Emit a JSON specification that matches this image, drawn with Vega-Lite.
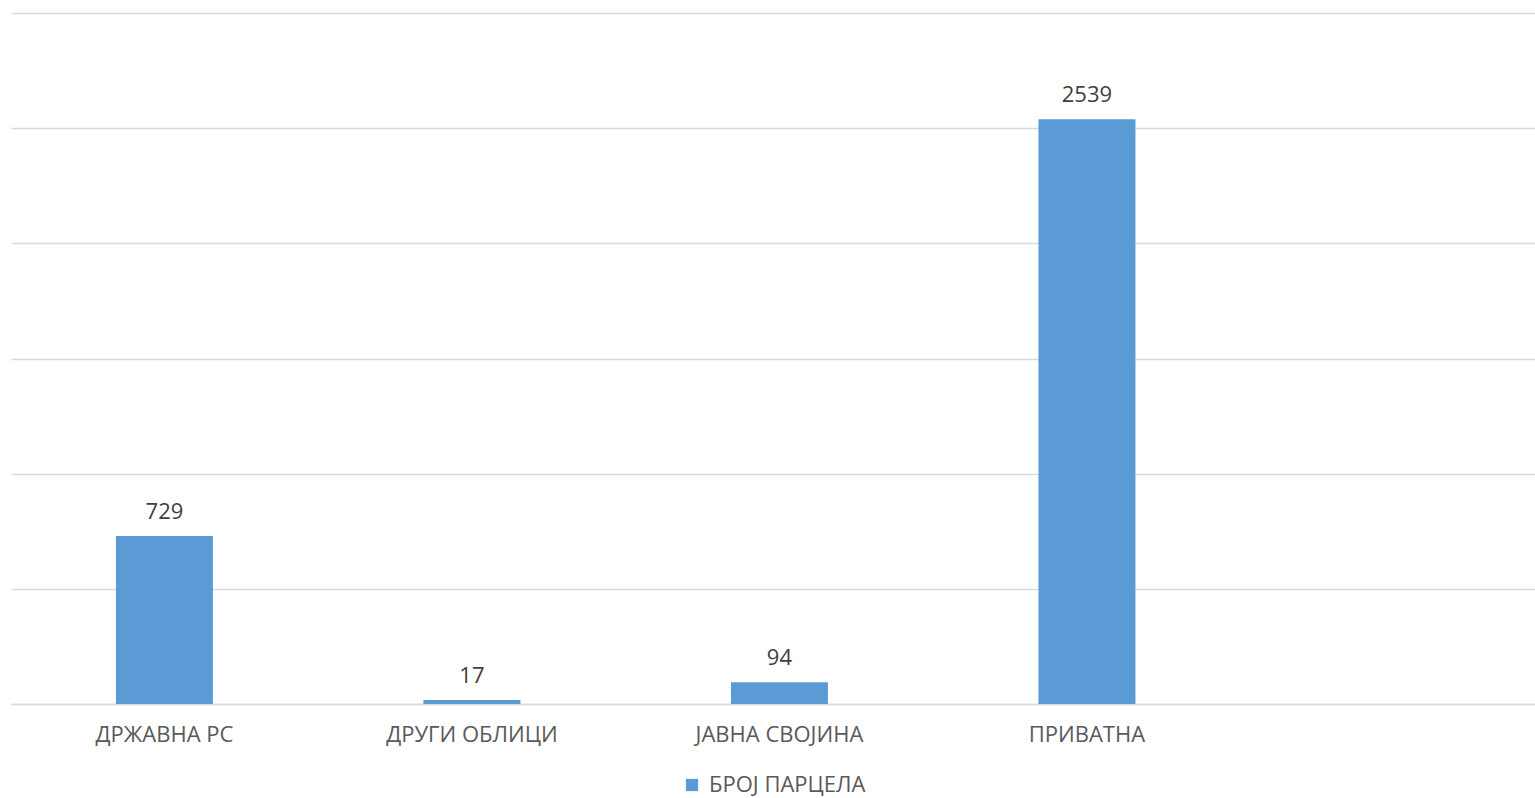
{
  "$schema": "https://vega.github.io/schema/vega-lite/v6.json",
  "width": 1524,
  "height": 691,
  "autosize": "none",
  "padding": {"left": 11, "top": 13, "right": 0, "bottom": 94},
  "background": "white",
  "data": {"values": [
    {"cat": "ДРЖАВНА РС", "value": 729, "series": "БРОЈ ПАРЦЕЛА"},
    {"cat": "ДРУГИ ОБЛИЦИ", "value": 17, "series": "БРОЈ ПАРЦЕЛА"},
    {"cat": "ЈАВНА СВОЈИНА", "value": 94, "series": "БРОЈ ПАРЦЕЛА"},
    {"cat": "ПРИВАТНА", "value": 2539, "series": "БРОЈ ПАРЦЕЛА"}
  ]},
  "encoding": {
    "x": {"field": "cat", "type": "nominal", "sort": null,
      "scale": {"paddingInner": 0.6846, "paddingOuter": 0.8203, "align": 0.208},
      "axis": {"title": null, "labelAngle": 0, "labelFontSize": 22, "labelFont": "Open Sans", "labelColor": "#595959", "labelPadding": 30, "labelBaseline": "middle", "labelLimit": 0, "ticks": false, "domainColor": "#d9d9d9", "domainWidth": 1.5, "grid": false}},
    "y": {"field": "value", "type": "quantitative",
      "scale": {"domain": [0, 3000]},
      "axis": {"title": null, "labels": false, "ticks": false, "domain": false, "values": [0, 500, 1000, 1500, 2000, 2500, 3000], "grid": true, "gridColor": "#d9d9d9", "gridWidth": 1.5}}
  },
  "layer": [
    {"mark": {"type": "bar"},
     "encoding": {"color": {"field": "series", "type": "nominal", "scale": {"range": ["#5B9BD5"]},
       "legend": {"title": null, "orient": "bottom", "direction": "horizontal", "symbolType": "square", "symbolSize": 150, "symbolStrokeWidth": 0, "labelFontSize": 22, "labelFont": "Open Sans", "labelColor": "#595959", "labelLimit": 0, "offset": 29, "labelOffset": 6}}}},
    {"mark": {"type": "text", "baseline": "middle", "dy": -24, "fontSize": 22, "font": "Open Sans", "color": "#404040"},
     "encoding": {"text": {"field": "value", "type": "quantitative"}}}
  ],
  "config": {
    "view": {"stroke": null},
    "legend": {"layout": {"bottom": {"anchor": "middle"}}}
  }
}
